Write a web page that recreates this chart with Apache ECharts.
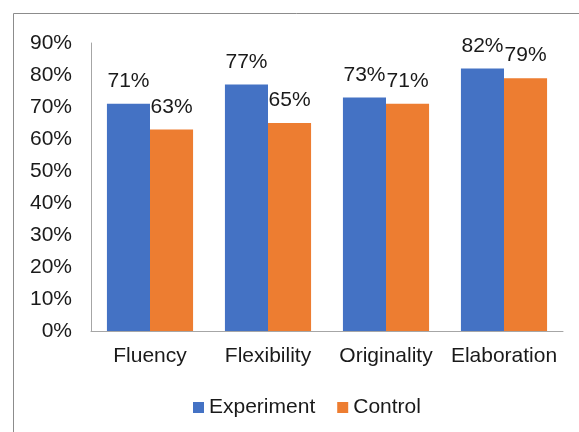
<!DOCTYPE html>
<html>
<head>
<meta charset="utf-8">
<script src="https://cdn.jsdelivr.net/npm/echarts@6/dist/echarts.min.js"></script>
<style>
  html, body { margin: 0; padding: 0; background: #fff; }
  #chart { width: 579px; height: 432px; }
</style>
</head>
<body>
<div id="chart"></div>
<script>
// Test scores (%) by creativity dimension
const categories = ['Fluency', 'Flexibility', 'Originality', 'Elaboration'];
const experiment = [71, 77, 73, 82];
const control = [63, 65, 71, 79];
const seriesNames = ['Experiment', 'Control'];

const FONT = '"Liberation Sans", Arial, sans-serif';
const TEXT = '#1a1a1a';

const chart = echarts.init(document.getElementById('chart'), null, { renderer: 'canvas' });

const label = {
  show: true,
  position: 'top',
  distance: 12,
  formatter: p => p.value + '%',
  fontFamily: FONT,
  fontSize: 21,
  color: TEXT
};

chart.setOption({
  animation: false,
  backgroundColor: '#fff',
  graphic: [{
    type: 'rect',
    shape: { x: 13.5, y: 13.5, width: 620, height: 460 },
    style: { fill: 'none', stroke: '#8c8c8c', lineWidth: 1 },
    silent: true
  }],
  grid: { left: 91, right: 16, top: 43, bottom: 101 },
  legend: {
    data: seriesNames,
    left: 188,
    top: 392,
    itemWidth: 11,
    itemHeight: 11,
    itemGap: 22,
    icon: 'rect',
    textStyle: { fontFamily: FONT, fontSize: 21, color: TEXT, padding: [0, 0, 0, 0] }
  },
  xAxis: {
    type: 'category',
    data: categories,
    axisLine: { lineStyle: { color: '#a6a6a6', width: 1 } },
    axisTick: { show: false },
    axisLabel: { interval: 0, fontFamily: FONT, fontSize: 21, color: TEXT, margin: 15 }
  },
  yAxis: {
    type: 'value',
    min: 0,
    max: 90,
    interval: 10,
    axisLine: { show: true, lineStyle: { color: '#a6a6a6', width: 1 } },
    axisTick: { show: false },
    splitLine: { show: false },
    axisLabel: { fontFamily: FONT, fontSize: 21, color: TEXT, margin: 19, formatter: v => v + '%' }
  },
  series: [
    {
      name: seriesNames[0],
      type: 'bar',
      data: experiment,
      itemStyle: { color: '#4472C4' },
      barGap: '0%',
      barCategoryGap: '27%',
      label: label
    },
    {
      name: seriesNames[1],
      type: 'bar',
      data: control,
      itemStyle: { color: '#ED7D31' },
      barGap: '0%',
      barCategoryGap: '27%',
      label: label
    }
  ]
});
</script>
</body>
</html>
